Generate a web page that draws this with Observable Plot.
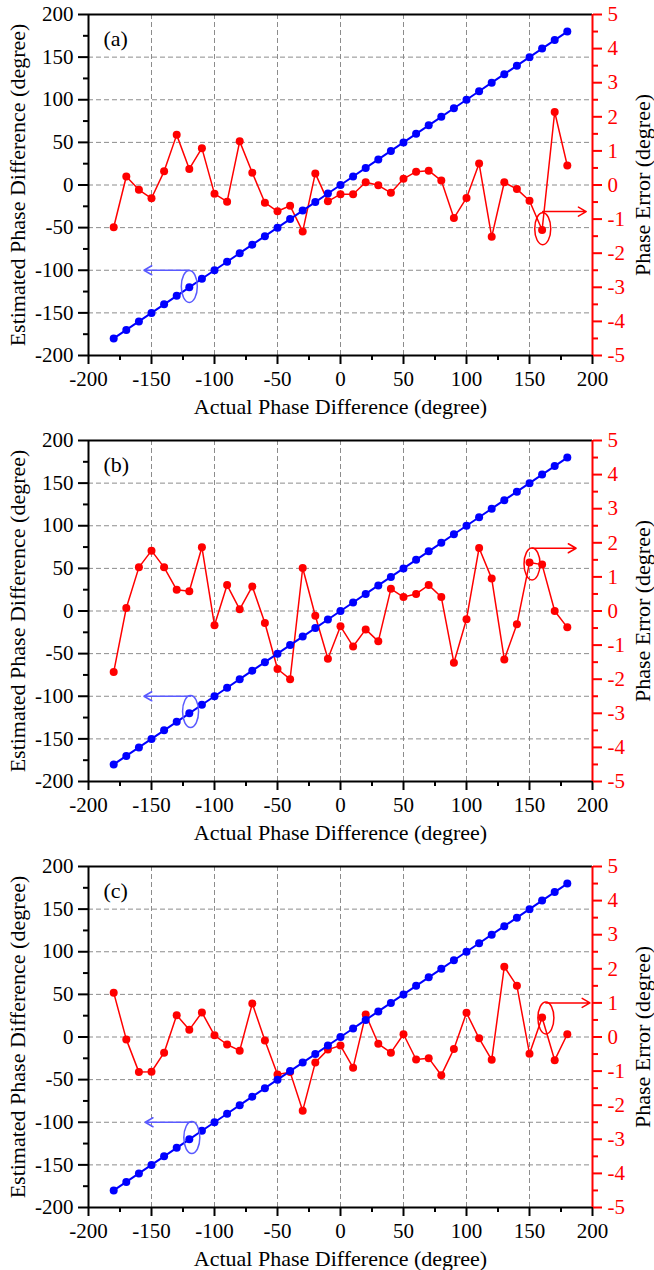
<!DOCTYPE html>
<html><head><meta charset="utf-8">
<script src="https://cdn.jsdelivr.net/npm/d3@7"></script>
<script src="https://cdn.jsdelivr.net/npm/@observablehq/plot@0.6"></script>
<style>body{margin:0;background:#fff}#chart svg{display:block}</style>
</head><body><div id="chart"></div>
<script>
// Actual phase difference (degree)
const actual = [-180,-170,-160,-150,-140,-130,-120,-110,-100,-90,-80,-70,-60,-50,-40,-30,-20,-10,0,10,20,30,40,50,60,70,80,90,100,110,120,130,140,150,160,170,180];
// Estimated phase difference (degree), left axis
const estimated = [-180,-170,-160,-150,-140,-130,-120,-110,-100,-90,-80,-70,-60,-50,-40,-30,-20,-10,0,10,20,30,40,50,60,70,80,90,100,110,120,130,140,150,160,170,180];
// Phase error (degree), right axis
const errA = [-1.24,0.25,-0.14,-0.39,0.40,1.47,0.47,1.08,-0.26,-0.49,1.28,0.36,-0.52,-0.77,-0.61,-1.36,0.34,-0.48,
              -0.27,-0.27,0.08,-0.01,-0.23,0.18,0.39,0.42,0.13,-0.97,-0.38,0.63,-1.52,0.08,-0.12,-0.46,-1.32,2.14,0.57];
const errB = [-1.79,0.09,1.28,1.77,1.28,0.62,0.58,1.87,-0.42,0.76,0.05,0.72,-0.35,-1.70,-2.00,1.26,-0.14,-1.40,
              -0.45,-1.04,-0.54,-0.89,0.65,0.41,0.50,0.76,0.41,-1.52,-0.24,1.85,0.95,-1.42,-0.39,1.42,1.36,0.00,-0.48];
const errC = [1.30,-0.07,-1.03,-1.02,-0.46,0.64,0.21,0.72,0.05,-0.22,-0.40,0.98,-0.10,-1.10,-1.03,-2.16,-0.75,-0.37,
              -0.25,-0.90,0.66,-0.20,-0.46,0.08,-0.66,-0.62,-1.12,-0.35,0.71,-0.04,-0.67,2.06,1.50,-0.49,0.57,-0.68,0.08];
const panelLabels = ["(a)","(b)","(c)"];
const xTicks = [-200,-150,-100,-50,0,50,100,150,200];
const xMinor = [-175,-125,-75,-25,25,75,125,175];
const yTicks = [-200,-150,-100,-50,0,50,100,150,200];
const yMinor = [-175,-125,-75,-25,25,75,125,175];
const errTicks = [-5,-4,-3,-2,-1,0,1,2,3,4,5];
const errMinor = [-4.5,-3.5,-2.5,-1.5,-0.5,0.5,1.5,2.5,3.5,4.5];
const errScale = 40; // right axis (-5..5) shares the frame with left axis (-200..200)
// annotation markers: ellipse centre and arrow level/end
const blueNotes = [{x:-120,y:-119,ay:-100,x2:-156},{x:-119,y:-118,ay:-100,x2:-156},{x:-118,y:-118,ay:-100,x2:-155}];
const redNotes  = [{x:160.5,e:-1.28,ae:-0.78,x2:195},{x:152,e:1.38,ae:1.84,x2:187},{x:163,e:0.56,ae:1.0,x2:198}];
const xLabel = "Actual Phase Difference (degree)";
const yLabel = "Estimated Phase Difference (degree)";
const y2Label = "Phase Error (degree)";

const ellipse = {draw(ctx){const rx=8, ry=16, k=0.5523;
  ctx.moveTo(rx,0);
  ctx.bezierCurveTo(rx,ry*k,rx*k,ry,0,ry);
  ctx.bezierCurveTo(-rx*k,ry,-rx,ry*k,-rx,0);
  ctx.bezierCurveTo(-rx,-ry*k,-rx*k,-ry,0,-ry);
  ctx.bezierCurveTo(rx*k,-ry,rx,-ry*k,rx,0);
  ctx.closePath();}};

function panel(i, err, height, mb) {
  const rows = actual.map((a,j)=>({a, est: estimated[j], e: err[j]*errScale}));
  const b = blueNotes[i], r = redNotes[i];
  const rn = [{x:r.x, y:r.e*errScale, ay:r.ae*errScale, x2:r.x2}];
  const blue2 = "#5a5aff";
  return Plot.plot({
    width: 654, height, marginTop: 14, marginLeft: 88, marginRight: 62, marginBottom: mb,
    style: {fontFamily: "'Liberation Serif', 'Times New Roman', serif", fontSize: "21px", background: "white", color: "black", overflow: "visible"},
    x: {domain: [-200,200], label: null},
    y: {domain: [-200,200], label: null},
    marks: [
      Plot.gridX(xTicks.slice(1,-1), {stroke:"#8c8c8c", strokeOpacity:1, strokeDasharray:"5,3", strokeWidth:1}),
      Plot.gridY(yTicks.slice(1,-1), {stroke:"#8c8c8c", strokeOpacity:1, strokeDasharray:"5,3", strokeWidth:1}),
      Plot.line(rows, {x:"a", y:"e", stroke:"#ff0000", strokeWidth:1.5}),
      Plot.dot(rows, {x:"a", y:"e", fill:"#ff0000", r:4}),
      Plot.line(rows, {x:"a", y:"est", stroke:"#0000ff", strokeWidth:2}),
      Plot.dot(rows, {x:"a", y:"est", fill:"#0000ff", r:4}),
      Plot.dot([b], {x:"x", y:"y", symbol: ellipse, stroke: blue2, fill:"none", strokeWidth:1.5}),
      Plot.arrow([b], {x1:"x", y1:"ay", x2:"x2", y2:"ay", stroke: blue2, strokeWidth:1.5, headLength:9}),
      Plot.dot(rn, {x:"x", y:"y", symbol: ellipse, stroke:"#ff0000", fill:"none", strokeWidth:1.5}),
      Plot.arrow(rn, {x1:"x", y1:"ay", x2:"x2", y2:"ay", stroke:"#ff0000", strokeWidth:1.5, headLength:9}),
      Plot.axisX(xTicks, {tickSize:9, tickPadding:7, strokeWidth:2, label:null, tickFormat:d=>String(d), fontSize:21}),
      Plot.axisX(xMinor, {tickSize:5, strokeWidth:2, label:null, tickFormat:()=>""}),
      Plot.axisY(yTicks, {anchor:"left", tickSize:10, tickPadding:5, strokeWidth:2, label:null, tickFormat:d=>String(d), fontSize:21}),
      Plot.axisY(yMinor, {anchor:"left", tickSize:5, strokeWidth:2, label:null, tickFormat:()=>""}),
      Plot.axisY(errTicks.map(v=>v*errScale), {anchor:"right", color:"#ff0000", tickSize:9, tickPadding:6, strokeWidth:2, label:null, tickFormat:d=>String(d/errScale), fontSize:21}),
      Plot.axisY(errMinor.map(v=>v*errScale), {anchor:"right", color:"#ff0000", tickSize:5, strokeWidth:2, label:null, tickFormat:()=>""}),
      Plot.ruleY([-200], {stroke:"black", strokeWidth:2}),
      Plot.ruleY([200], {stroke:"black", strokeWidth:2}),
      Plot.ruleX([-200], {stroke:"black", strokeWidth:2}),
      Plot.ruleX([200], {stroke:"#ff0000", strokeWidth:2}),
      Plot.text([panelLabels[i]], {text:d=>d, frameAnchor:"top-left", dx:15, dy:24, textAnchor:"start", lineAnchor:"middle", fontSize:22}),
      Plot.text([xLabel], {text:d=>d, frameAnchor:"bottom", dy:51, textAnchor:"middle", lineAnchor:"middle", fontSize:22}),
      Plot.text([yLabel], {text:d=>d, frameAnchor:"left", dx:-71, rotate:-90, textAnchor:"middle", lineAnchor:"middle", fontSize:22}),
      Plot.text([y2Label], {text:d=>d, frameAnchor:"right", dx:50, rotate:-90, textAnchor:"middle", lineAnchor:"middle", fontSize:22})
    ]
  });
}
const root = document.getElementById("chart");
root.appendChild(panel(0, errA, 426, 71));
root.appendChild(panel(1, errB, 426, 71));
root.appendChild(panel(2, errC, 418, 63));
</script>
</body></html>
